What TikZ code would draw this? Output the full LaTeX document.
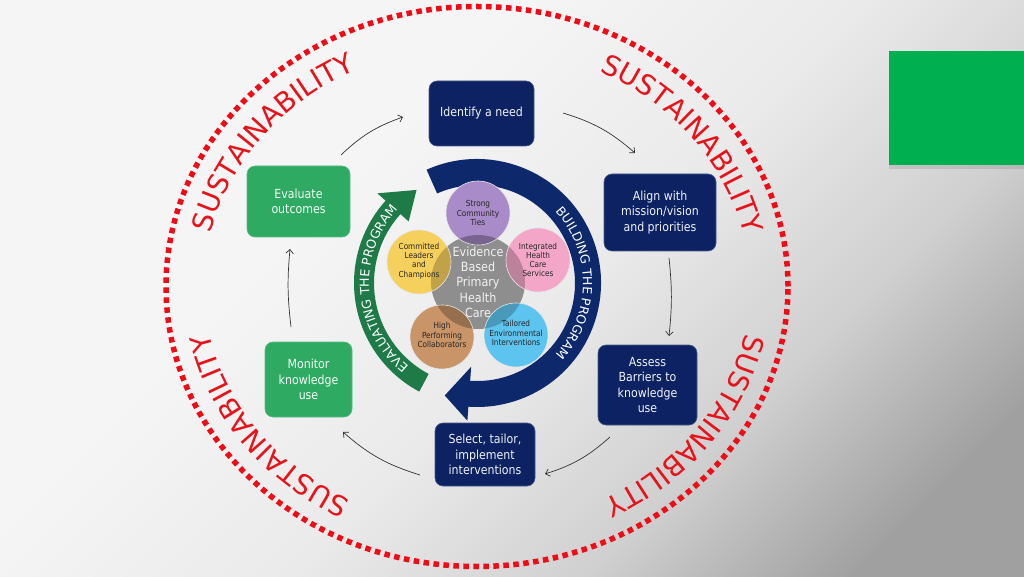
\documentclass[tikz,border=0pt]{standalone}
\usepackage{fontspec}
\setmainfont{DejaVu Sans}
\newfontfamily\boxfont{DejaVu Sans}[FakeStretch=0.88]
\newfontfamily\capfont{DejaVu Sans}
\usetikzlibrary{calc,decorations.text,arrows.meta}
\definecolor{navy}{RGB}{12,34,98}
\definecolor{bandnavy}{RGB}{14,40,108}
\definecolor{boxgreen}{RGB}{46,170,99}
\definecolor{bandgreen}{RGB}{30,122,70}
\definecolor{sred}{RGB}{232,18,26}
\definecolor{dotred}{RGB}{240,12,22}
\definecolor{slidegreen}{RGB}{0,176,80}
\definecolor{cgray}{RGB}{142,142,142}
\definecolor{cpurple}{RGB}{168,139,200}
\definecolor{cyellow}{RGB}{246,208,92}
\definecolor{cpink}{RGB}{243,166,199}
\definecolor{cbrown}{RGB}{200,148,104}
\definecolor{cblue}{RGB}{92,196,238}
\definecolor{bgL}{RGB}{245,245,245}
\definecolor{bgM}{RGB}{234,234,234}
\definecolor{bgMD}{RGB}{208,208,208}
\definecolor{bgD}{RGB}{160,160,160}
\pgfdeclareverticalshading{bgshade}{100bp}{color(0bp)=(bgD); color(22bp)=(bgD); color(34bp)=(bgMD); color(47bp)=(bgM); color(62bp)=(bgL); color(100bp)=(bgL)}
\begin{document}
\begin{tikzpicture}[x=1pt,y=1pt,
  navybox/.style={rounded corners=8pt, fill=navy, draw=navy!75!white, line width=0.6pt, text=white!94!navy, align=center, inner sep=2pt, font=\boxfont\fontsize{12.5}{15.3}\selectfont},
  greenbox/.style={navybox, fill=boxgreen, draw=boxgreen!80!white, text=white!95!boxgreen},
  flow/.style={-{Straight Barb[length=4pt,width=7.5pt]}, line width=0.7pt, black!80},
  ctext/.style={align=center, inner sep=0pt, text=black!85, font=\boxfont\fontsize{8.3}{9.2}\selectfont},
  cring/.style={draw=white!80!gray, line width=0.6pt},
  ]
\useasboundingbox (0,0) rectangle (1024,576);
\shade[shading=bgshade, shading angle=45] (0,0) rectangle (1024,576);
% green slide rectangle
\fill[black, opacity=0.10] (889,407) rectangle (1024,521);
\fill[slidegreen] (889,411) rectangle (1024,525);
% dotted ellipse
\coordinate (E) at (477,289.5);
\draw[dotred, line width=5.5pt, dash pattern=on 5.5pt off 4.5pt] (E) ellipse[x radius=311, y radius=280];
% sustainability labels
\foreach \s/\e in {182.5/102.5, 77/-3, 4/-76, 256/176}{
  \path[decorate, decoration={text along path, text align=center, text={|\capfont\fontsize{28}{28}\selectfont\color{sred}|SUSTAINABILITY}}]
     ($(E)+(\s:273 and 241)$) arc[start angle=\s, end angle=\e, x radius=273, y radius=241];
}
% boxes
\node[navybox, minimum width=105pt, minimum height=65pt] (identify) at (481.5,462.5) {Identify a need};
\node[navybox, minimum width=112pt, minimum height=77pt] (align) at (660,363.5) {Align with\\mission/vision\\and priorities};
\node[navybox, minimum width=99pt, minimum height=80pt] (assess) at (647.5,191) {Assess\\Barriers to\\knowledge\\use};
\node[navybox, minimum width=100pt, minimum height=63pt] (select) at (485,121.5) {Select, tailor,\\implement\\interventions};
\node[greenbox, minimum width=87pt, minimum height=75pt] (monitor) at (308.5,196.5) {Monitor\\knowledge\\use};
\node[greenbox, minimum width=103pt, minimum height=71pt] (evaluate) at (298.5,374.5) {Evaluate\\outcomes};
% cycle arrows
\coordinate (a1s) at (341,421); \coordinate (a1e) at (403,459);
\coordinate (a2s) at (563,463); \coordinate (a2e) at (635,423);
\coordinate (a3s) at (669,318); \coordinate (a3e) at (669,240);
\coordinate (a4s) at (610,139); \coordinate (a4e) at (545,102);
\coordinate (a5s) at (420,101); \coordinate (a5e) at (343,144);
\coordinate (a6s) at (291,249); \coordinate (a6e) at (290,327);
\draw[flow] (a1s) to[bend left=12] (a1e);
\draw[flow] (a2s) to[bend left=12] (a2e);
\draw[flow] (a3s) to[bend left=6] (a3e);
\draw[flow] (a4s) to[bend left=12] (a4e);
\draw[flow] (a5s) to[bend left=12] (a5e);
\draw[flow] (a6s) to[bend left=6] (a6e);
% central bands
\coordinate (C) at (477,293);
\fill[bandgreen] ($(C)+(242:123)$) arc[start angle=242, end angle=138, radius=123]
   -- ($(C)+(138:134)$) -- ($(C)+(123:111)$) -- ($(C)+(138:92)$) -- ($(C)+(138:103)$)
   arc[start angle=138, end angle=242, radius=103] -- cycle;
\fill[bandnavy] ($(C)+(114:124)$) arc[start angle=114, end angle=-94, radius=124]
   -- ($(C)+(-94:138)$) -- ($(C)+(-106:117)$) -- ($(C)+(-94:84)$) -- ($(C)+(-94:98)$)
   arc[start angle=-94, end angle=114, radius=98] -- cycle;
\path[decorate, decoration={text along path, text align=center, text={|\capfont\fontsize{12.5}{12.5}\selectfont\color{white}|BUILDING THE PROGRAM}}]
   ($(C)+(62:106)$) arc[start angle=62, end angle=-62, radius=106];
\path[decorate, decoration={text along path, text align=center, text={|\capfont\fontsize{12.5}{12.5}\selectfont\color{white}|EVALUATING THE PROGRAM}}]
   ($(C)+(240:108)$) arc[start angle=240, end angle=128, radius=108];
% central circles
\fill[cgray] (478,294) circle[radius=47];
\fill[cpurple] (478,363) circle[radius=32];
\fill[cyellow] (419,314) circle[radius=32];
\fill[cpink] (538,316) circle[radius=32];
\fill[cbrown] (442,239) circle[radius=32];
\fill[cblue] (516,241) circle[radius=32];
\begin{scope}
  \clip (478,294) circle[radius=47];
  \fill[cpurple!72!black] (478,363) circle[radius=32];
  \fill[cyellow!78!black] (419,314) circle[radius=32];
  \fill[cpink!78!black] (538,316) circle[radius=32];
  \fill[cbrown!75!black] (442,239) circle[radius=32];
  \fill[cblue!78!black] (516,241) circle[radius=32];
\end{scope}
\foreach \p in {(478,363),(419,314),(538,316),(442,239),(516,241)}{
  \draw[cring] \p circle[radius=32];
}
\node[align=center, inner sep=0pt, text=white!90!gray, font=\boxfont\fontsize{12.7}{15.3}\selectfont] (ebphc) at (478,294) {Evidence\\Based\\Primary\\Health\\Care};
\node[ctext] (strong) at (478,363) {Strong\\Community\\Ties};
\node[ctext] (committed) at (419,315) {Committed\\Leaders\\and\\Champions};
\node[ctext] (integrated) at (538,316) {Integrated\\Health\\Care\\Services};
\node[ctext] (high) at (442,241) {High\\Performing\\Collaborators};
\node[ctext] (tailored) at (516,243) {Tailored\\Environmental\\Interventions};
\end{tikzpicture}
\end{document}
